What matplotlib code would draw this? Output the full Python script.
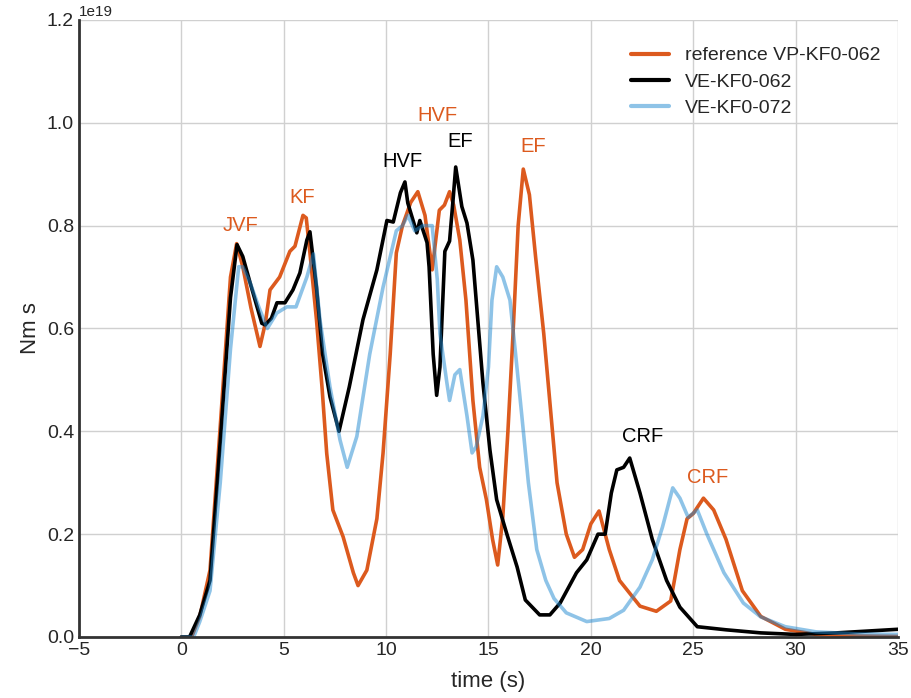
import matplotlib
matplotlib.use("Agg")
import matplotlib.pyplot as plt
import numpy as np

# ---------------- data ----------------
t_ref = [0, 0.5, 0.9, 1.4, 1.9, 2.4, 2.7, 3.0, 3.4, 3.84, 4.1, 4.33, 4.8, 5.3, 5.55, 5.94,
         6.1, 6.28, 6.6, 6.87, 7.1, 7.4, 7.9, 8.4, 8.63, 9.06, 9.55, 9.85, 10.2, 10.5,
         10.8, 11.2, 11.55, 11.9, 12.25, 12.6, 12.85, 13.1, 13.3, 13.6, 13.9, 14.24, 14.57,
         14.9, 15.2, 15.45, 15.7, 15.95, 16.2, 16.45, 16.7, 17.0, 17.3, 17.7, 18.35, 18.8,
         19.2, 19.6, 20.0, 20.4, 20.9, 21.4, 21.8, 22.4, 23.2, 23.9, 24.35, 24.7, 25.0,
         25.5, 26.0, 26.6, 27.4, 28.3, 29.5, 31, 33, 35]
v_ref = [0, 0, 0.04, 0.13, 0.41, 0.70, 0.765, 0.72, 0.64, 0.565, 0.61, 0.675, 0.70, 0.75,
         0.76, 0.82, 0.815, 0.747, 0.617, 0.486, 0.357, 0.247, 0.195, 0.125, 0.10, 0.13,
         0.23, 0.357, 0.55, 0.747, 0.80, 0.845, 0.866, 0.82, 0.714, 0.83, 0.84, 0.866,
         0.84, 0.772, 0.655, 0.46, 0.33, 0.267, 0.19, 0.14, 0.233, 0.40, 0.59, 0.80, 0.91,
         0.86, 0.74, 0.59, 0.30, 0.20, 0.155, 0.17, 0.22, 0.245, 0.17, 0.11, 0.09, 0.06,
         0.05, 0.07, 0.17, 0.23, 0.24, 0.27, 0.247, 0.19, 0.09, 0.04, 0.015, 0.005, 0.002,
         0.001]

t_062 = [0, 0.4, 0.9, 1.4, 1.9, 2.4, 2.72, 3.0, 3.35, 3.93, 4.1, 4.4, 4.67, 5.06, 5.45,
         5.79, 6.13, 6.28, 6.6, 6.9, 7.26, 7.7, 8.2, 8.87, 9.55, 10.04, 10.35, 10.7, 10.92,
         11.06, 11.5, 11.65, 12.0, 12.1, 12.3, 12.47, 12.63, 12.87, 13.1, 13.27, 13.4, 13.7,
         13.95, 14.24, 14.4, 14.73, 15.07, 15.4, 15.9, 16.4, 16.8, 17.5, 18.0, 18.5, 19.3,
         19.8, 20.35, 20.7, 21.0, 21.27, 21.6, 21.9, 22.4, 23.0, 23.7, 24.35, 25.2, 26.6,
         28.3, 30, 32, 35]
v_062 = [0, 0, 0.043, 0.11, 0.38, 0.66, 0.763, 0.74, 0.69, 0.61, 0.607, 0.62, 0.65, 0.65,
         0.675, 0.708, 0.772, 0.788, 0.68, 0.55, 0.467, 0.40, 0.486, 0.617, 0.714, 0.81,
         0.807, 0.864, 0.885, 0.844, 0.786, 0.81, 0.767, 0.72, 0.55, 0.47, 0.525, 0.75,
         0.77, 0.85, 0.914, 0.837, 0.805, 0.733, 0.655, 0.494, 0.364, 0.267, 0.20, 0.136,
         0.072, 0.043, 0.043, 0.066, 0.125, 0.15, 0.20, 0.20, 0.28, 0.325, 0.33, 0.348,
         0.28, 0.19, 0.11, 0.058, 0.02, 0.014, 0.008, 0.005, 0.008, 0.015]

t_072 = [0, 0.6, 0.9, 1.4, 1.9, 2.4, 2.8, 3.0, 3.35, 3.8, 4.2, 4.66, 5.15, 5.6, 6.13, 6.45,
         6.77, 7.26, 7.75, 8.1, 8.57, 9.2, 9.85, 10.5, 10.8, 11.06, 11.4, 11.8, 12.05,
         12.25, 12.5, 12.63, 12.97, 13.1, 13.36, 13.6, 13.95, 14.2, 14.4, 14.73, 15.0,
         15.17, 15.4, 15.7, 16.05, 16.3, 16.63, 16.95, 17.36, 17.8, 18.2, 18.8, 19.8, 20.9,
         21.6, 22.4, 23.0, 23.5, 24.0, 24.35, 24.75, 25.2, 25.67, 26.5, 27.45, 28.3, 29.5,
         31, 33, 35]
v_072 = [0, 0, 0.03, 0.09, 0.30, 0.56, 0.72, 0.72, 0.69, 0.64, 0.60, 0.63, 0.642, 0.642,
         0.70, 0.745, 0.617, 0.486, 0.383, 0.33, 0.39, 0.55, 0.68, 0.79, 0.80, 0.82, 0.79,
         0.80, 0.80, 0.80, 0.695, 0.59, 0.494, 0.46, 0.51, 0.52, 0.43, 0.358, 0.37, 0.43,
         0.525, 0.655, 0.72, 0.70, 0.655, 0.56, 0.43, 0.30, 0.17, 0.11, 0.075, 0.047, 0.03,
         0.036, 0.052, 0.097, 0.15, 0.214, 0.29, 0.27, 0.233, 0.247, 0.20, 0.125, 0.066,
         0.039, 0.02, 0.01, 0.006, 0.005]

scale = 1e19
series_labels = ["reference VP-KF0-062", "VE-KF0-062", "VE-KF0-072"]

# annotations: (text, t, value, series index for colour)
ann_text = ["JVF", "KF", "HVF", "HVF", "EF", "EF", "CRF", "CRF"]
ann_t = [2.9, 5.9, 10.8, 12.5, 13.6, 17.2, 22.55, 25.7]
ann_v = [0.80, 0.855, 0.925, 1.014, 0.963, 0.953, 0.39, 0.31]
ann_series = [0, 0, 1, 0, 1, 0, 1, 0]

# ---------------- plot ----------------
plt.style.use("seaborn-v0_8-whitegrid")
plt.rcParams["font.family"] = ["Liberation Sans", "DejaVu Sans"]

c_orange = "#dc5a1e"
c_black = "#000000"
c_blue = "#1f88d0"
colors = [c_orange, c_black, c_blue]

fig = plt.figure(figsize=(9.12, 6.98), dpi=100)
ax = fig.add_axes([0.0866, 0.0874, 0.898, 0.884])

ax.plot(t_ref, np.array(v_ref) * scale, color=c_orange, lw=2.6, label=series_labels[0])
ax.plot(t_062, np.array(v_062) * scale, color=c_black, lw=2.6, label=series_labels[1])
ax.plot(t_072, np.array(v_072) * scale, color=c_blue, lw=2.6, alpha=0.5, label=series_labels[2])

for txt, tt, vv, si in zip(ann_text, ann_t, ann_v, ann_series):
    ax.text(tt, vv * scale, txt, color=colors[si], fontsize=14.5, ha="center", va="center")

ax.set_xlim(-5, 35)
ax.set_ylim(0, 1.2e19)
ax.set_xticks(np.arange(-5, 36, 5))
ax.set_yticks(np.arange(0, 1.21e19, 0.2e19))
ax.tick_params(axis="both", labelsize=14)
ax.yaxis.get_offset_text().set_fontsize(11)

ax.set_xlabel("time (s)", fontsize=16, labelpad=9)
ax.set_ylabel("Nm s", fontsize=16)

for side in ["top", "right"]:
    ax.spines[side].set_visible(False)
for side in ["left", "bottom"]:
    ax.spines[side].set_visible(True)
    ax.spines[side].set_color("#333333")
    ax.spines[side].set_linewidth(2.0)

ax.grid(True, color="#d0d0d0", linewidth=1.0)

leg = ax.legend(loc="upper right", bbox_to_anchor=(1.0, 0.985), fontsize=14,
                frameon=False, handlelength=2.0, handletextpad=0.8, labelspacing=0.45)
for line in leg.get_lines():
    line.set_linewidth(3)

fig.savefig("out.png", dpi=100)
